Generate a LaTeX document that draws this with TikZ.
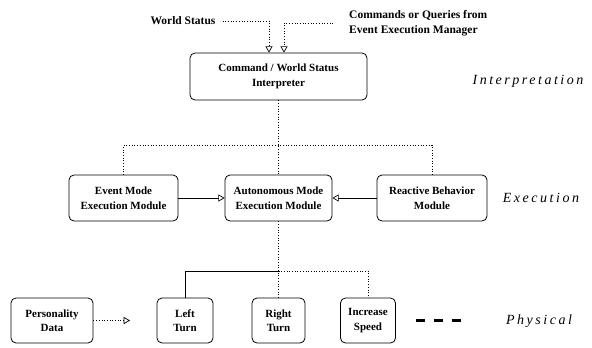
\documentclass[tikz,border=0pt]{standalone}
\usepackage{fontspec}
\setmainfont{Liberation Serif}
\newfontfamily\layerfont[LetterSpace=18]{Liberation Serif}
\usepackage{tikz}
\usetikzlibrary{arrows}
\usetikzlibrary{calc,shapes}

\tikzset{
  modbox/.style={draw,rounded corners=5pt,line width=0.8pt,align=center,inner sep=1pt,
    font=\bfseries\fontsize{11}{14.5}\selectfont},
  txtlbl/.style={align=left,font=\bfseries\fontsize{11.5}{15}\selectfont,inner sep=1pt},
  layerlbl/.style={font=\layerfont\itshape\fontsize{14}{16}\selectfont},
  link/.style={dotted,line width=0.7pt},
  feed/.style={line width=0.7pt,-open triangle 60}
}

\begin{document}
\begin{tikzpicture}[x=1pt,y=-1pt]
\useasboundingbox (0,0) rectangle (592,348);
			% Interpretation
\node [txtlbl] (ws) at (183,21) {World Status};
\node [txtlbl,anchor=west] (cmd) at (348,23) {Commands or Queries from\\Event Execution Manager};
\node [modbox,minimum width=177pt,minimum height=47pt] (interp) at (278.5,76.5) {Command / World Status\\Interpreter};
\draw [feed,dotted,shorten <=6pt] (ws.east) -| ($(interp.north)+(-9.5,0)$);
\draw [feed,dotted,shorten <=15pt] (cmd.west) -| ($(interp.north)+(5.5,0)$);
\node [layerlbl] (interptxt) at (528,81) {Interpretation};
			% Execution
\node [modbox,minimum width=109pt,minimum height=46pt] (event) at (123.5,198) {Event Mode\\Execution Module};
\node [modbox,minimum width=107pt,minimum height=46pt] (auto) at (278.5,198) {Autonomous Mode\\Execution Module};
\node [modbox,minimum width=110pt,minimum height=46pt] (react) at (432,198) {Reactive Behavior\\Module};
\node [layerlbl] (exectxt) at (541,198) {Execution};
\coordinate (busexec) at (278.5,145);
\draw [link] (interp.south) -- (auto.north);
\draw [link] (event.north) |- (busexec) -| (react.north);
\draw [feed] (event.east) -- (auto.west);
\draw [feed] (react.west) -- (auto.east);
			% Physical
\node [modbox,minimum width=82pt,minimum height=45pt] (pers) at (52,320.5) {Personality\\Data};
\node [modbox,minimum width=56pt,minimum height=45pt] (left) at (185,320.5) {Left\\Turn};
\node [modbox,minimum width=53pt,minimum height=45pt] (right) at (278.5,320.5) {Right\\Turn};
\node [modbox,minimum width=55pt,minimum height=45pt] (incr) at (368,320.5) {Increase\\Speed};
\node [layerlbl] (phystxt) at (539,321) {Physical};
\coordinate (busphys) at (278.5,271);
\coordinate (perstip) at (130,320.5);
\draw [link] (auto.south) -- (right.north);
\draw [line width=0.7pt] (left.north) |- (busphys);
\draw [link] (busphys) -| (incr.north);
\draw [feed,dotted] (pers.east) -- (perstip);
\draw [line width=2.5pt,dash pattern=on 9pt off 9pt] ($(incr.east)+(20,0)$) -- ++(47,0);
			\end{tikzpicture}
\end{document}
